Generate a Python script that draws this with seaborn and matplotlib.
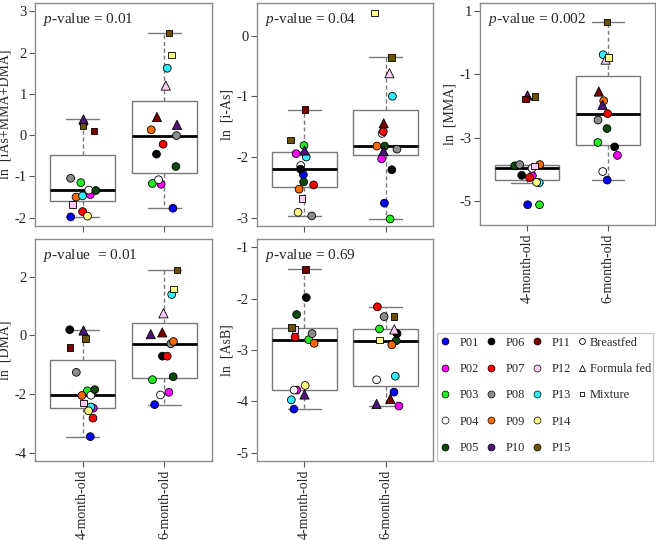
import numpy as np
import pandas as pd
import matplotlib
matplotlib.use("Agg")
from matplotlib import pyplot as plt
from matplotlib.lines import Line2D
from matplotlib.patches import Rectangle
import seaborn as sns


GROUPS = ["4-month-old", "6-month-old"]
PATIENTS = ["P%02d" % i for i in range(1, 16)]
PATIENT_COLORS = ["#0000FF", "#FF00FF", "#22EE22", "#FFFFFF", "#0A4A0A",
                  "#000000", "#FF0000", "#8C8C8C", "#FF6A00", "#4B1675",
                  "#7A0000", "#FFCCF5", "#33EEFF", "#FFFF88", "#6B5200"]

FEEDING_4M = ["Breastfed"] * 9 + ["Formula fed", "Mixture", "Mixture", "Breastfed", "Breastfed", "Mixture"]
FEEDING_6M = ["Breastfed"] * 9 + ["Formula fed", "Formula fed", "Formula fed", "Breastfed", "Mixture", "Mixture"]

# ln concentrations, one value per patient P01..P15
TOTAL_4M = [-1.98, -1.44, -1.15, -1.33, -1.34, 0.28, -1.85, -1.045, -1.50, 0.40, 0.10, -1.68, -1.47, -1.96, 0.225]
TOTAL_6M = [-1.77, -1.19, -1.17, -1.08, -0.76, -0.46, -0.22, -0.01, 0.13, 0.25, 0.44, 1.20, 1.62, 1.94, 2.47]

IAS_4M = [-2.29, -1.945, -1.81, -2.14, -2.41, -2.20, -2.46, -2.97, -2.53, -1.88, -1.22, -2.68, -2.0, -2.91, -1.72]
IAS_6M = [-2.76, -2.03, -3.02, -1.61, -1.82, -2.21, -1.58, -1.87, -1.82, -1.9, -1.445, -0.62, -1.0, 0.37, -0.36]

MMA_4M = [-5.12, -4.20, -5.12, -3.97, -3.89, -4.19, -4.26, -3.85, -3.85, -1.65, -1.78, -3.90, -4.42, -4.41, -1.70]
MMA_6M = [-4.34, -3.56, -3.15, -4.07, -2.71, -3.29, -2.24, -2.44, -1.83, -1.96, -1.54, -0.53, -0.376, -0.46, 0.65]

DMA_4M = [-3.45, -2.48, -1.89, -2.04, -1.85, 0.19, -2.82, -1.26, -2.05, 0.17, -0.41, -2.30, -2.44, -2.57, -0.11]
DMA_6M = [-2.36, -1.94, -1.51, -2.03, -1.41, -0.71, -0.71, -0.29, -0.21, 0.04, 0.10, 0.75, 1.39, 1.58, 2.215]

ASB_4M = [-4.15, -3.78, -2.80, -3.78, -2.31, -1.98, -2.75, -2.68, -2.87, -3.85, -1.43, -2.60, -3.97, -3.69, -2.56]
ASB_6M = [-3.82, -4.09, -2.59, -3.58, -2.82, -2.68, -2.16, -2.35, -2.90, -4.05, -3.95, -2.60, -3.51, -2.81, -2.35]

PANELS = [
    # values 4m, values 6m, y label, p-value text, ylim, yticks, axes rect (px: left, top, right, bottom), x labels
    (TOTAL_4M, TOTAL_6M, "ln  [iAs+MMA+DMA]", "$p$-value = 0.01", (-2, 3), [-2, -1, 0, 1, 2, 3], (35, 3, 212, 226), False),
    (IAS_4M, IAS_6M, "ln  [i-As]", "$p$-value = 0.04", (-3, 0.4), [-3, -2, -1, 0], (257, 3, 433, 226), False),
    (MMA_4M, MMA_6M, "ln  [MMA]", "$p$-value = 0.002", (-5.5, 1), [-5, -3, -1, 1], (480, 3, 655, 225), True),
    (DMA_4M, DMA_6M, "ln  [DMA]", "$p$-value  = 0.01", (-4, 3), [-4, -2, 0, 2], (35, 239, 212, 461), True),
    (ASB_4M, ASB_6M, "ln  [AsB]", "$p$-value = 0.69", (-5, -1), [-5, -4, -3, -2, -1], (257, 239, 433, 461), True),
]

FEEDING_MARKERS = {"Breastfed": ("o", 5.6), "Formula fed": ("^", 6.6), "Mixture": ("s", 4.6)}

FIG_W, FIG_H = 656, 540
FRAME_GREY = "#8c8c8c"
BOX_GREY = "#7a7a7a"
LEGEND_BOX = (437, 333, 653, 461)  # px: left, top, right, bottom


def px_x(x):
    return x / FIG_W


def px_y(y):
    return 1 - y / FIG_H


def draw_panel(fig, vals_4m, vals_6m, ylabel, ptext, ylim, yticks, rect, show_xlabels):
    left, top, right, bottom = rect
    ax = fig.add_axes([px_x(left), px_y(bottom), (right - left) / FIG_W, (bottom - top) / FIG_H])

    df = pd.DataFrame({
        "group": np.repeat(GROUPS, len(PATIENTS)),
        "patient": PATIENTS * 2,
        "feeding": FEEDING_4M + FEEDING_6M,
        "value": list(vals_4m) + list(vals_6m),
    })

    sns.boxplot(data=df, x="group", y="value", order=GROUPS, ax=ax, color="white",
                linecolor=BOX_GREY, linewidth=1, width=0.8, showfliers=False,
                medianprops={"color": "black", "linewidth": 2},
                whiskerprops={"linestyle": (0, (3, 2))})

    palette = dict(zip(PATIENTS, PATIENT_COLORS))
    for feeding, (marker, size) in FEEDING_MARKERS.items():
        sub = df[df["feeding"] == feeding]
        sns.stripplot(data=sub, x="group", y="value", order=GROUPS, hue="patient",
                      hue_order=PATIENTS, palette=palette, marker=marker, size=size,
                      linewidth=0.6, edgecolor="black", jitter=0.17, legend=False,
                      ax=ax, zorder=3)

    lo, hi = ylim
    pad = 0.04 * (hi - lo)
    ax.set_ylim(lo - pad, hi + pad)
    ax.set_xlim(-0.58, 1.58)
    ax.set_yticks(yticks)
    ax.set_yticklabels([str(t) for t in yticks])
    ax.set_ylabel(ylabel, fontsize=10, labelpad=2)
    ax.set_xlabel("")
    ax.set_xticks([0, 1])
    if show_xlabels:
        ax.set_xticklabels(GROUPS, rotation=90, fontsize=10)
    else:
        ax.set_xticklabels([])
    ax.tick_params(axis="both", direction="out", length=4, width=0.8, color="#555555",
                   labelsize=10.5, pad=2, left=True, bottom=True)
    ax.tick_params(axis="x", labelsize=10)
    for sp in ax.spines.values():
        sp.set_color(FRAME_GREY)
        sp.set_linewidth(1)
    ax.text(0.045, 0.965, ptext, transform=ax.transAxes, ha="left", va="top", fontsize=11)
    return ax


def main():
    np.random.seed(7)
    sns.set_style("white")
    plt.rcParams["font.family"] = ["Liberation Serif", "DejaVu Serif"]
    plt.rcParams["mathtext.fontset"] = "custom"
    plt.rcParams["mathtext.rm"] = "Liberation Serif"
    plt.rcParams["mathtext.it"] = "Liberation Serif:italic"
    plt.rcParams["axes.unicode_minus"] = False

    fig = plt.figure(figsize=(FIG_W / 100, FIG_H / 100), dpi=100)

    for panel in PANELS:
        draw_panel(fig, *panel)

    lx0, ly0, lx1, ly1 = LEGEND_BOX

    # legend: patients (colour) ...
    pat_handles = [Line2D([], [], linestyle="none", marker="o", markersize=5,
                          markerfacecolor=col, markeredgecolor="black", markeredgewidth=0.5)
                   for col in PATIENT_COLORS]
    fig.legend(handles=pat_handles, labels=PATIENTS, loc="upper left",
               bbox_to_anchor=(px_x(lx0 - 1), px_y(ly0 + 1)), ncol=3, fontsize=9,
               frameon=False, handlelength=1.0, handletextpad=0.7, columnspacing=0.43,
               labelspacing=1.15, borderpad=0.2, borderaxespad=0)

    # ... and feeding type (marker shape)
    feed_handles = [Line2D([], [], linestyle="none", marker=marker, markersize=size * 0.75,
                           markerfacecolor="white", markeredgecolor="black", markeredgewidth=0.6)
                    for marker, size in FEEDING_MARKERS.values()]
    fig.legend(handles=feed_handles, labels=list(FEEDING_MARKERS), loc="upper left",
               bbox_to_anchor=(px_x(573), px_y(ly0 + 1)), ncol=1, fontsize=9,
               frameon=False, handlelength=1.0, handletextpad=0.14,
               labelspacing=1.15, borderpad=0.2, borderaxespad=0)

    fig.add_artist(Rectangle((px_x(lx0), px_y(ly1)), (lx1 - lx0) / FIG_W, (ly1 - ly0) / FIG_H,
                             transform=fig.transFigure, fill=False, edgecolor="#c4c4c4",
                             linewidth=0.9))

    fig.savefig("out.png", dpi=100)


if __name__ == "__main__":
    main()
